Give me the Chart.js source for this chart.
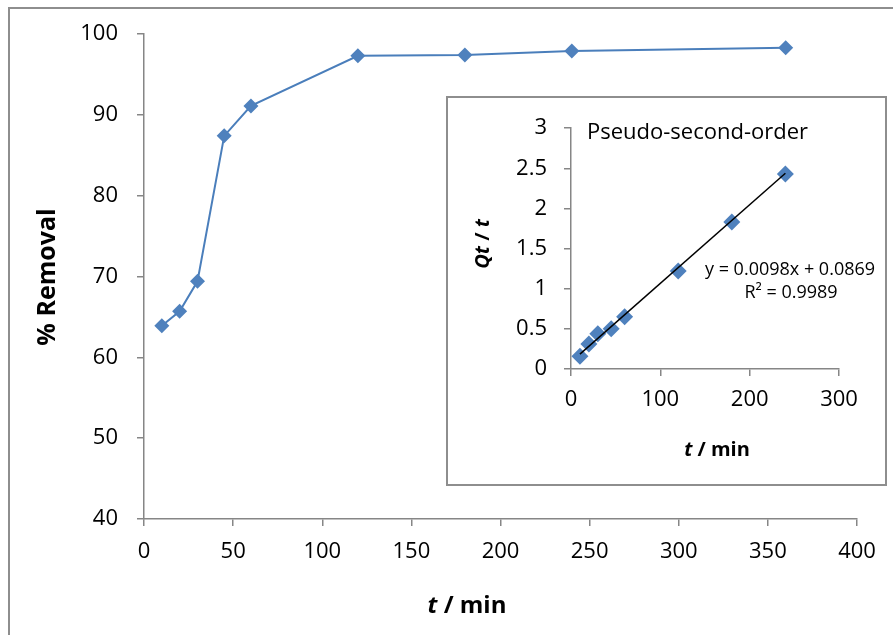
<!DOCTYPE html>
<html>
<head>
<meta charset="utf-8">
<script src="https://cdn.jsdelivr.net/npm/chart.js@4.4.0/dist/chart.umd.min.js"></script>
<style>
html,body{margin:0;padding:0;background:#fff;}
#wrap{position:relative;width:893px;height:635px;overflow:hidden;background:#fff;}
#frame{position:absolute;left:8px;top:7px;width:920px;height:700px;border:2px solid #8e8e8e;box-sizing:border-box;}
#main{position:absolute;left:0;top:0;}
#inset{position:absolute;left:446px;top:96px;width:441px;height:390px;border:2px solid #8e8e8e;box-sizing:border-box;background:#fff;}
#insetCanvas{position:absolute;left:0;top:0;}
</style>
</head>
<body>
<div id="wrap">
  <div id="frame"></div>
  <canvas id="main" width="893" height="635"></canvas>
  <div id="inset"><canvas id="insetCanvas" width="437" height="386"></canvas></div>
</div>
<script>
// ---- data ----
const removalTime = [10, 20, 30, 45, 60, 120, 180, 240, 360];
const removalPct  = [63.9, 65.7, 69.4, 87.4, 91.1, 97.3, 97.4, 97.9, 98.3];
const mainXTicks  = [0, 50, 100, 150, 200, 250, 300, 350, 400];
const mainYTicks  = [40, 50, 60, 70, 80, 90, 100];

const kineticTime = [10, 20, 30, 45, 60, 120, 180, 240];
const kineticTQ   = [0.16, 0.31, 0.44, 0.50, 0.65, 1.22, 1.83, 2.43];
const fitTime     = [10, 240];
const fitTQ       = [0.185, 2.439];
const insetXTicks = [0, 100, 200, 300];
const insetYTicks = [0, 0.5, 1, 1.5, 2, 2.5, 3];

const insetTitle  = 'Pseudo-second-order';
const fitEquation = 'y = 0.0098x + 0.0869';
const fitR2       = 'R² = 0.9989';

// ---- styles ----
const FAM = "'Open Sans', sans-serif";
const GRAY = '#868686';
const BLUE = '#4F81BD';
const LINE = '#4A7EBB';

function drawRuns(ctx, runs, x, y, rot) {
  ctx.save();
  ctx.translate(x, y);
  if (rot) ctx.rotate(rot);
  let total = 0;
  runs.forEach(r => { ctx.font = r.font; r.w = ctx.measureText(r.text).width; total += r.w; });
  let cx = -total / 2;
  ctx.fillStyle = '#000';
  ctx.textBaseline = 'middle';
  ctx.textAlign = 'left';
  runs.forEach(r => { ctx.font = r.font; ctx.fillText(r.text, cx, 0); cx += r.w; });
  ctx.restore();
}

function axisCfg(ticks, min, max, fit, pad, isX) {
  return {
    type: 'linear', min: min, max: max,
    afterBuildTicks: s => { s.ticks = ticks.map(v => ({ value: v })); },
    afterFit: s => { if (isX) s.height = fit; else s.width = fit; },
    grid: { drawOnChartArea: false, drawTicks: true, tickLength: 7, color: GRAY, lineWidth: 1.5 },
    border: { display: true, color: GRAY, width: 1.5 },
    ticks: { font: { family: FAM, size: 22 }, color: '#000', padding: pad, maxRotation: 0, autoSkip: false,
             callback: v => String(v) }
  };
}

const mainTitles = {
  id: 'mainTitles',
  afterDraw(chart) {
    const ctx = chart.ctx;
    drawRuns(ctx, [{ text: 't', font: `italic bold 24px ${FAM}` }, { text: ' / min', font: `bold 24px ${FAM}` }], 467, 606, 0);
    drawRuns(ctx, [{ text: '% Removal', font: `bold 25px ${FAM}` }], 48, 277, -Math.PI / 2);
  }
};

const insetTexts = {
  id: 'insetTexts',
  afterDraw(chart) {
    const ctx = chart.ctx;
    drawRuns(ctx, [{ text: 't', font: `italic bold 20px ${FAM}` }, { text: ' / min', font: `bold 20px ${FAM}` }], 269, 352, 0);
    drawRuns(ctx, [{ text: 'Qt', font: `italic bold 20px ${FAM}` }, { text: ' / ', font: `bold 20px ${FAM}` }, { text: 't', font: `italic bold 20px ${FAM}` }], 35, 146, -Math.PI / 2);
    ctx.save();
    ctx.fillStyle = '#000';
    ctx.textBaseline = 'middle';
    ctx.font = `22px ${FAM}`;
    ctx.textAlign = 'left';
    ctx.fillText(insetTitle, 139, 35);
    ctx.font = `18px ${FAM}`;
    ctx.textAlign = 'center';
    ctx.fillText(fitEquation, 342, 172);
    ctx.fillText(fitR2, 343, 195);
    ctx.restore();
  }
};

const common = {
  responsive: false, animation: false, events: [],
  plugins: { legend: { display: false }, tooltip: { enabled: false } }
};

new Chart(document.getElementById('main'), {
  type: 'scatter',
  data: { datasets: [{
    data: removalTime.map((t, i) => ({ x: t, y: removalPct[i] })),
    showLine: true, borderColor: LINE, borderWidth: 2,
    pointStyle: 'rectRot', pointRadius: 7.5, pointBackgroundColor: BLUE, pointBorderColor: BLUE, pointBorderWidth: 0
  }] },
  options: Object.assign({}, common, {
    layout: { padding: { left: 0, top: 34, right: 36, bottom: 0 } },
    scales: {
      x: axisCfg(mainXTicks, 0, 400, 116, 13, true),
      y: axisCfg(mainYTicks, 40, 100, 144, 19, false)
    }
  }),
  plugins: [mainTitles]
});

new Chart(document.getElementById('insetCanvas'), {
  type: 'scatter',
  data: { datasets: [
    {
      data: fitTime.map((t, i) => ({ x: t, y: fitTQ[i] })),
      showLine: true, borderColor: '#000', borderWidth: 1.5, pointRadius: 0
    },
    {
      data: kineticTime.map((t, i) => ({ x: t, y: kineticTQ[i] })),
      showLine: false, pointStyle: 'rectRot', pointRadius: 8.5,
      pointBackgroundColor: BLUE, pointBorderColor: BLUE, pointBorderWidth: 0
    }
  ] },
  options: Object.assign({}, common, {
    layout: { padding: { left: 0, top: 25, right: 46, bottom: 0 } },
    scales: {
      x: axisCfg(insetXTicks, 0, 300, 115, 11, true),
      y: axisCfg(insetYTicks, 0, 3, 123, 17, false)
    }
  }),
  plugins: [insetTexts]
});
</script>
</body>
</html>
